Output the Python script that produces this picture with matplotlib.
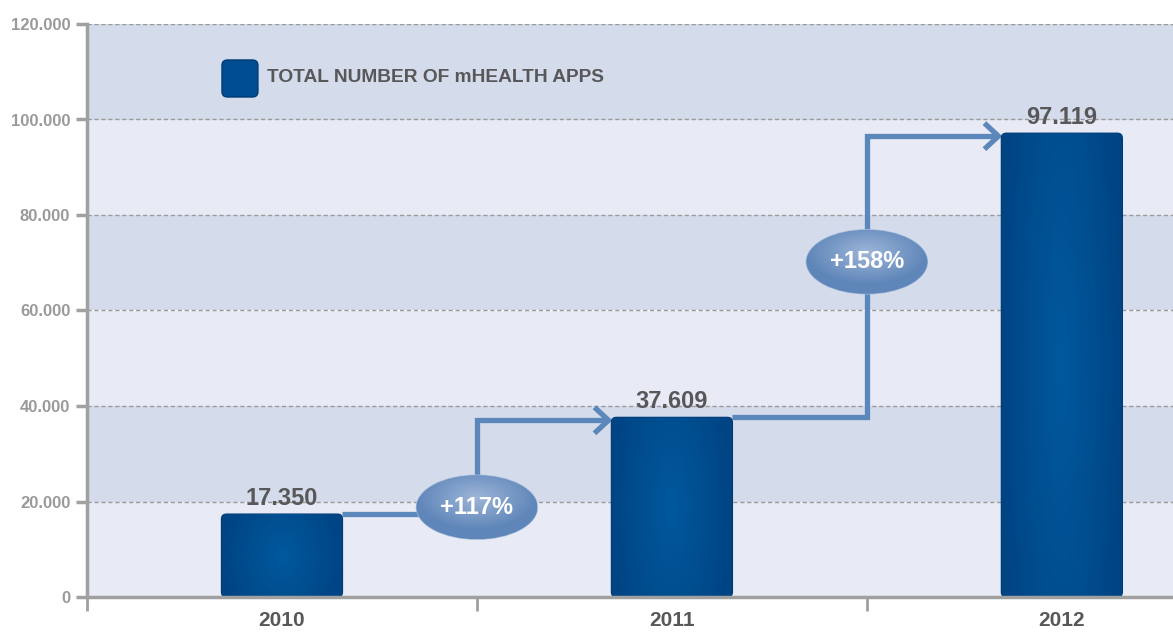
import matplotlib
matplotlib.use('Agg')
import matplotlib.pyplot as plt
import numpy as np
from matplotlib.patches import FancyBboxPatch, Ellipse
from matplotlib.ticker import FuncFormatter, MultipleLocator

years = ['2010', '2011', '2012']
apps = [17350, 37609, 97119]
growth = ['+117%', '+158%']
growth_y = [18800, 70200]

plt.rcParams['font.family'] = ['Liberation Sans Narrow', 'Liberation Sans', 'DejaVu Sans']
plt.rcParams['font.weight'] = 'bold'

fig = plt.figure(figsize=(11.73, 6.36), dpi=100)
ax = fig.add_axes([87 / 1173, 39 / 636, 1086 / 1173, 573 / 636])
ax.set_xlim(-0.5, 2.285)
ax.set_ylim(0, 120000)

# alternating bands
for i, lo in enumerate(range(0, 120000, 20000)):
    ax.axhspan(lo, lo + 20000, color='#e8ebf5' if i % 2 == 0 else '#d4dbea', zorder=0, lw=0)
for y in range(20000, 120001, 20000):
    ax.axhline(y, color='#9a9a9a', ls=(0, (3, 2)), lw=1, zorder=1)

# pixel -> data scale
px_x = 2.785 / 1086
px_y = 120000 / 573
aspect = px_y / px_x


def gradient_fill(patch, c_edge, c_mid, squash=0.6, yshift=0.0):
    ax.add_patch(patch)
    bb = patch.get_path().get_extents(patch.get_patch_transform())
    n = 200
    xx, yy = np.meshgrid(np.linspace(-1, 1, n), np.linspace(-1, 1, n))
    t = np.clip(np.sqrt(xx ** 2 + ((yy - yshift) * squash) ** 2), 0, 1)
    c0 = np.array(matplotlib.colors.to_rgb(c_mid))
    c1 = np.array(matplotlib.colors.to_rgb(c_edge))
    img = c0[None, None, :] * (1 - t[..., None]) + c1[None, None, :] * t[..., None]
    im = ax.imshow(img, extent=(bb.x0, bb.x1, bb.y0, bb.y1), origin='lower',
                   aspect='auto', zorder=patch.get_zorder() + 0.1, interpolation='bilinear')
    im.set_clip_path(patch)


bar_w = 0.31
x = np.arange(len(years))
for xi, v in zip(x, apps):
    p = FancyBboxPatch((xi - bar_w / 2, 0), bar_w, v,
                       boxstyle='round,pad=0,rounding_size=%f' % (5 * px_x),
                       mutation_aspect=aspect, facecolor='#004d92',
                       edgecolor='#003a75', lw=1, zorder=3)
    gradient_fill(p, '#004484', '#00599d', squash=0.5)
    ax.text(xi, v + 900, f'{v / 1000:.3f}', ha='center', va='bottom',
            fontsize=17, color='#58585a', fontweight='bold', zorder=6)

# connector arrows
line_c = '#5b87bb'
lw = 3.8
for i in range(len(apps) - 1):
    xm = x[i] + 0.5
    ya = apps[i + 1] - 600
    tip = x[i + 1] - bar_w / 2 - 3 * px_x
    ax.plot([x[i] + bar_w / 2, xm, xm, tip], [apps[i], apps[i], ya, ya],
            color=line_c, lw=lw, solid_joinstyle='miter', solid_capstyle='butt', zorder=2)
    ax.plot([tip - 14 * px_x, tip, tip - 14 * px_x], [ya + 13 * px_y, ya, ya - 13 * px_y],
            color=line_c, lw=lw, solid_joinstyle='miter', solid_capstyle='butt', zorder=2)
    el = Ellipse((xm, growth_y[i]), 121 * px_x, 64 * px_y, facecolor='#7b9cc8',
                 edgecolor='#a5bcdc', lw=1, zorder=4)
    gradient_fill(el, '#5f86b9', '#9db5d8', squash=1.0, yshift=0.3)
    ax.text(xm, growth_y[i], growth[i], ha='center', va='center', color='white',
            fontsize=17, fontweight='bold', zorder=6)

# legend
leg = FancyBboxPatch((0.1243, 0.8726), 0.0331, 0.0646, transform=ax.transAxes,
                     boxstyle='round,pad=0,rounding_size=0.005', mutation_aspect=1.9,
                     facecolor='#004d92', edgecolor='#003a75', lw=1, zorder=5)
ax.add_patch(leg)
ax.text(0.1657, 0.9058, 'TOTAL NUMBER OF mHEALTH APPS', transform=ax.transAxes,
        ha='left', va='center', fontsize=13.8, color='#58585a', fontweight='bold', zorder=6)

# axes styling
for s in ['top', 'right']:
    ax.spines[s].set_visible(False)
for s in ['left', 'bottom']:
    ax.spines[s].set_color('#a0a0a0')
    ax.spines[s].set_linewidth(2.5)
    ax.spines[s].set_zorder(5)
ax.yaxis.set_major_locator(MultipleLocator(20000))
ax.yaxis.set_major_formatter(FuncFormatter(
    lambda v, p: '0' if v == 0 else f'{int(v):,}'.replace(',', '.')))
ax.tick_params(axis='y', length=8, width=2.5, color='#a0a0a0', labelcolor='#9a9a9a',
               labelsize=12, pad=4)
ax.set_xticks([-0.5, 0.5, 1.5])
ax.set_xticklabels([])
ax.tick_params(axis='x', length=10, width=2, color='#a0a0a0')
for xi, yr in zip(x, years):
    ax.text(xi, -3000, yr, ha='center', va='top', fontsize=15, color='#58585a',
            fontweight='bold', clip_on=False)
for lab in ax.get_yticklabels():
    lab.set_fontweight('bold')

fig.savefig('out.png', dpi=100)
